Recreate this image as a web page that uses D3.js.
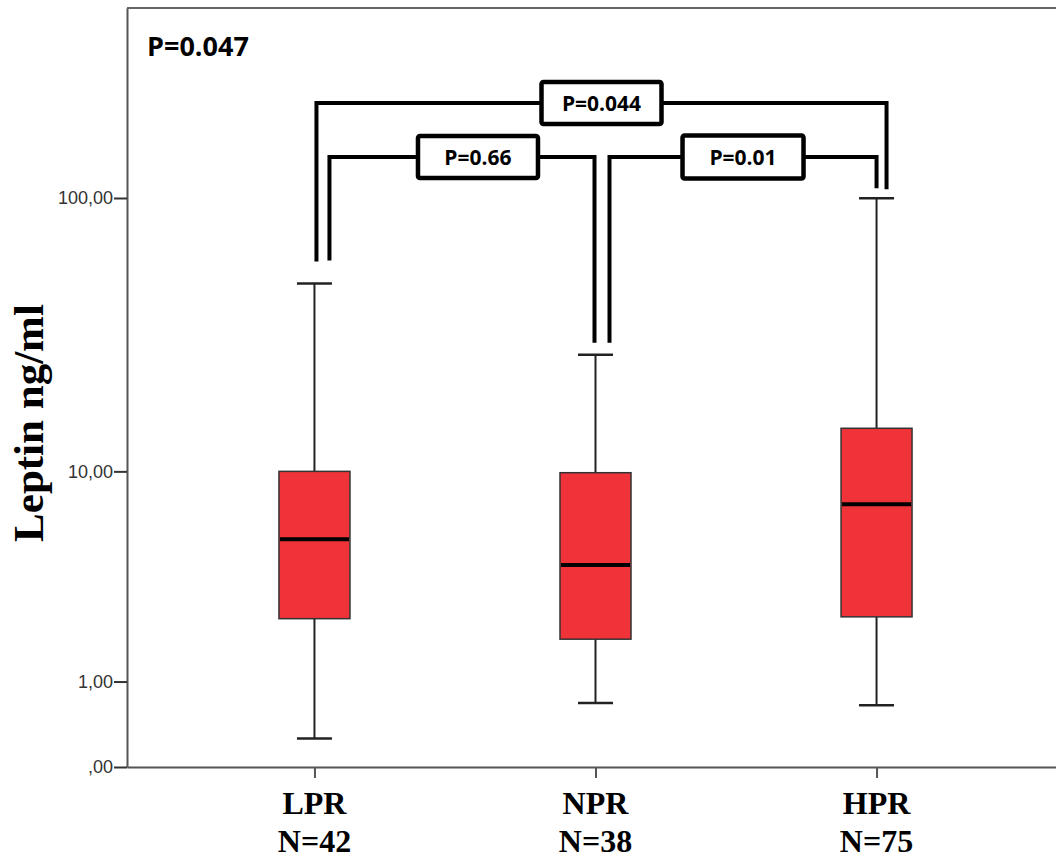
<!DOCTYPE html>
<html lang="en">
<head>
<meta charset="UTF-8">
<title>Leptin by group</title>
<script src="https://d3js.org/d3.v7.min.js"></script>
<style>
  html, body { margin: 0; padding: 0; background: #fff; }
  .tick text { font-family: "Liberation Sans", Arial, sans-serif; font-size: 18px; fill: #333; }
  .plabel { font-family: "Open Sans", sans-serif; font-weight: 700; fill: #000; }
  .serif { font-family: "Liberation Serif", "Times New Roman", serif; font-weight: 700; fill: #000; }
</style>
</head>
<body>
<svg id="chart" width="1056" height="859"></svg>
<script>
// values
const groups = ['LPR', 'NPR', 'HPR'];
const counts = [42, 38, 75];
const whiskerLow = [0.26, 0.68, 0.65];
const q1 = [2.33, 1.82, 2.38];
const median = [5.34, 4.15, 7.42];
const q3 = [10.0, 9.88, 14.6];
const whiskerHigh = [49.5, 27.3, 99.7];

const yTicks = [0, 1, 10, 100];
const yTickLabels = [',00', '1,00', '10,00', '100,00'];

const overallP = 'P=0.047';
const pairs = [['LPR', 'HPR'], ['LPR', 'NPR'], ['NPR', 'HPR']];
const pairLabels = ['P=0.044', 'P=0.66', 'P=0.01'];

// layout
const plotLeft = 127, plotTop = 8, plotBottom = 767, plotRight = 1064;
const svg = d3.select('#chart');

// spss log scale drawn as log(x+1)
const y = d3.scaleSymlog().constant(1).domain([0, 470.6]).range([plotBottom, plotTop]);
const x = d3.scalePoint().domain(groups).range([plotLeft, plotRight]).padding(0.667);

const boxW = 71, capW = 35;

// frame top line
svg.append('line')
  .attr('x1', plotLeft).attr('x2', 1056).attr('y1', plotTop).attr('y2', plotTop)
  .attr('stroke', '#666').attr('stroke-width', 2);

// y axis
const yAxis = svg.append('g')
  .attr('transform', `translate(${plotLeft},0)`)
  .call(d3.axisLeft(y).tickValues(yTicks)
    .tickFormat((d, i) => yTickLabels[i]).tickSize(13).tickSizeOuter(0).tickPadding(1));
yAxis.select('.domain').attr('stroke', '#555').attr('stroke-width', 2);
yAxis.selectAll('.tick line').attr('stroke', '#333').attr('stroke-width', 2);

// x axis
const xAxis = svg.append('g')
  .attr('transform', `translate(0,${plotBottom})`)
  .call(d3.axisBottom(x).tickSize(11).tickSizeOuter(0).tickFormat(''));
xAxis.select('.domain').attr('stroke', '#555').attr('stroke-width', 2);
xAxis.selectAll('.tick line').attr('stroke', '#555').attr('stroke-width', 2);

// x labels
const xl = svg.append('g').selectAll('text').data(groups).join('text')
  .attr('class', 'serif')
  .attr('text-anchor', 'middle')
  .attr('font-size', 32);
xl.append('tspan').attr('x', d => x(d)).attr('y', 814).text(d => d);
xl.append('tspan').attr('x', d => x(d)).attr('y', 852).text((d, i) => 'N=' + counts[i]);

// y label
svg.append('text')
  .attr('class', 'serif')
  .attr('transform', 'translate(43,423) rotate(-90)')
  .attr('text-anchor', 'middle')
  .attr('font-size', 43)
  .text('Leptin ng/ml');

// boxes
const box = svg.append('g').selectAll('g').data(groups).join('g');

box.append('line')
  .attr('x1', d => x(d)).attr('x2', d => x(d))
  .attr('y1', (d, i) => y(whiskerLow[i])).attr('y2', (d, i) => y(whiskerHigh[i]))
  .attr('stroke', '#222').attr('stroke-width', 2);
box.append('line')
  .attr('x1', d => x(d) - capW / 2).attr('x2', d => x(d) + capW / 2)
  .attr('y1', (d, i) => y(whiskerLow[i])).attr('y2', (d, i) => y(whiskerLow[i]))
  .attr('stroke', '#222').attr('stroke-width', 2.5);
box.append('line')
  .attr('x1', d => x(d) - capW / 2).attr('x2', d => x(d) + capW / 2)
  .attr('y1', (d, i) => y(whiskerHigh[i])).attr('y2', (d, i) => y(whiskerHigh[i]))
  .attr('stroke', '#222').attr('stroke-width', 2.5);
box.append('rect')
  .attr('x', d => x(d) - boxW / 2).attr('width', boxW)
  .attr('y', (d, i) => y(q3[i]))
  .attr('height', (d, i) => y(q1[i]) - y(q3[i]))
  .attr('fill', '#ef3339').attr('stroke', '#333').attr('stroke-width', 1.5);
box.append('line')
  .attr('x1', d => x(d) - boxW / 2 + 1).attr('x2', d => x(d) + boxW / 2 - 1)
  .attr('y1', (d, i) => y(median[i])).attr('y2', (d, i) => y(median[i]))
  .attr('stroke', '#000').attr('stroke-width', 4);

// comparison brackets
const bracketLayout = [
  { level: 103, dx0: 2, dx1: 10, gap0: 22, gap1: 9, labelDx: 0, bh: 42, bw: 120 },
  { level: 157, dx0: 15, dx1: -1, gap0: 23, gap1: 12, labelDx: 16, bh: 42, bw: 120 },
  { level: 157, dx0: 14, dx1: 0, gap0: 12, gap1: 10, labelDx: 0, bh: 43, bw: 121 }
];
const gi = g => groups.indexOf(g);

pairs.forEach((p, k) => {
  const L = bracketLayout[k];
  const xa = x(p[0]) + L.dx0, xb = x(p[1]) + L.dx1;
  const ya = y(whiskerHigh[gi(p[0])]) - L.gap0;
  const yb = y(whiskerHigh[gi(p[1])]) - L.gap1;
  svg.append('path')
    .attr('d', `M${xa},${ya}V${L.level}H${xb}V${yb}`)
    .attr('fill', 'none').attr('stroke', '#000').attr('stroke-width', 4)
    .attr('stroke-linejoin', 'miter');
  const cx = (xa + xb) / 2 + L.labelDx;
  svg.append('rect')
    .attr('x', cx - L.bw / 2).attr('y', L.level - L.bh / 2)
    .attr('width', L.bw).attr('height', L.bh).attr('rx', 2)
    .attr('fill', '#fff').attr('stroke', '#000').attr('stroke-width', 4.5);
  svg.append('text')
    .attr('class', 'plabel')
    .attr('x', cx).attr('y', L.level + 7.5)
    .attr('text-anchor', 'middle')
    .attr('font-size', 21)
    .text(pairLabels[k]);
});

// overall p
svg.append('text')
  .attr('class', 'plabel')
  .attr('x', 147).attr('y', 56)
  .attr('font-size', 27)
  .text(overallP);
</script>
</body>
</html>
